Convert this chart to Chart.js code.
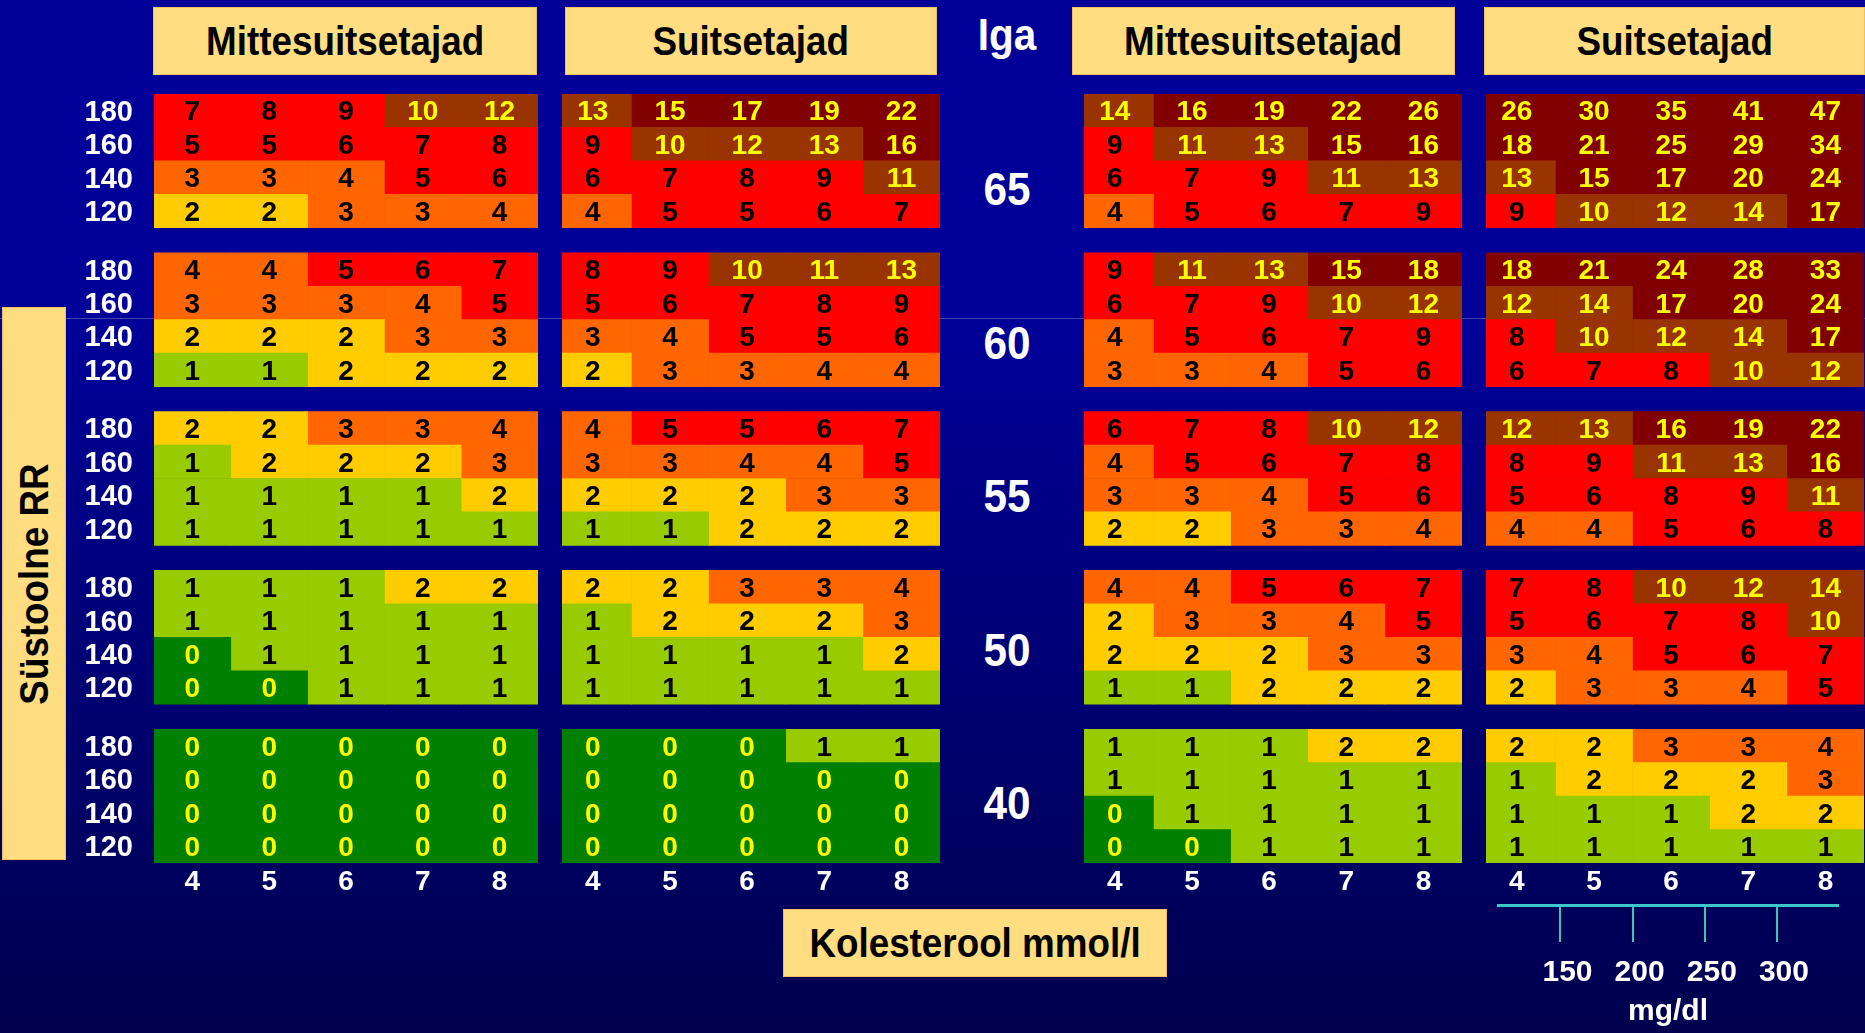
<!DOCTYPE html>
<html><head><meta charset="utf-8">
<script src="https://cdn.jsdelivr.net/npm/chart.js@4/dist/chart.umd.min.js"></script>
<style>
html,body{margin:0;padding:0;width:1865px;height:1033px;overflow:hidden;}
body{position:relative;background:linear-gradient(to bottom,#000099 0px,#000099 318px,#00004E 1033px);font-family:"Liberation Sans",Arial,sans-serif;}
.hline{position:absolute;left:0;top:318px;width:1865px;height:1px;background:#4444B0;}
.box{position:absolute;background:#FFDD80;border:1px solid #EEC25A;box-sizing:border-box;display:flex;align-items:center;justify-content:center;}
.box span{display:inline-block;font-weight:bold;font-size:40px;line-height:1;color:#000;transform:scaleX(0.92);white-space:nowrap;}
.box.vert span{transform:rotate(-90deg) scaleX(0.92);}
.lbl{position:absolute;color:#fff;font-weight:bold;line-height:1;transform:translate(-50%,-50%) scaleX(0.92);white-space:nowrap;}
canvas{position:absolute;}
</style></head><body>
<div class="hline"></div>
<div class="box" style="left:153px;top:7px;width:384px;height:68px"><span id="h1"></span></div>
<div class="box" style="left:565px;top:7px;width:372px;height:68px"><span id="h2"></span></div>
<div class="box" style="left:1072px;top:7px;width:383px;height:68px"><span id="h3"></span></div>
<div class="box" style="left:1484px;top:7px;width:381px;height:68px"><span id="h4"></span></div>
<div class="lbl" id="igaLbl" style="left:1007px;top:35px;font-size:44px"></div>
<div class="box vert" style="left:2px;top:307px;width:64px;height:553px"><span id="sideLbl"></span></div>
<div class="box" style="left:783px;top:909px;width:384px;height:68px"><span id="cholLbl"></span></div>
<div id="ageLabels"></div>
<canvas id="p1" width="468" height="849" style="left:70px;top:54px"></canvas>
<canvas id="p2" width="378" height="849" style="left:562px;top:54px"></canvas>
<canvas id="p3" width="378" height="849" style="left:1084px;top:54px"></canvas>
<canvas id="p4" width="378" height="849" style="left:1486px;top:54px"></canvas>
<canvas id="mg" width="342" height="135" style="left:1497px;top:895px"></canvas>
<script>
// ---------- data ----------
const panelTitles = ['Mittesuitsetajad', 'Suitsetajad', 'Mittesuitsetajad', 'Suitsetajad'];
const ageTitle = 'Iga';
const ages = ['65', '60', '55', '50', '40'];
const systolic = ['180', '160', '140', '120'];
const cholesterol = ['4', '5', '6', '7', '8'];
const mgdl = [150, 200, 250, 300];
const sideTitle = 'Süstoolne RR';
const cholTitle = 'Kolesterool mmol/l';
const mgdlTitle = 'mg/dl';

// risk values: blocks by age (65,60,55,50,40), rows by systolic (180..120), columns by cholesterol (4..8)
const riskNonSmokersLeft = [
  [[7,8,9,10,12],[5,5,6,7,8],[3,3,4,5,6],[2,2,3,3,4]],
  [[4,4,5,6,7],[3,3,3,4,5],[2,2,2,3,3],[1,1,2,2,2]],
  [[2,2,3,3,4],[1,2,2,2,3],[1,1,1,1,2],[1,1,1,1,1]],
  [[1,1,1,2,2],[1,1,1,1,1],[0,1,1,1,1],[0,0,1,1,1]],
  [[0,0,0,0,0],[0,0,0,0,0],[0,0,0,0,0],[0,0,0,0,0]]
];
const riskSmokersLeft = [
  [[13,15,17,19,22],[9,10,12,13,16],[6,7,8,9,11],[4,5,5,6,7]],
  [[8,9,10,11,13],[5,6,7,8,9],[3,4,5,5,6],[2,3,3,4,4]],
  [[4,5,5,6,7],[3,3,4,4,5],[2,2,2,3,3],[1,1,2,2,2]],
  [[2,2,3,3,4],[1,2,2,2,3],[1,1,1,1,2],[1,1,1,1,1]],
  [[0,0,0,1,1],[0,0,0,0,0],[0,0,0,0,0],[0,0,0,0,0]]
];
const riskNonSmokersRight = [
  [[14,16,19,22,26],[9,11,13,15,16],[6,7,9,11,13],[4,5,6,7,9]],
  [[9,11,13,15,18],[6,7,9,10,12],[4,5,6,7,9],[3,3,4,5,6]],
  [[6,7,8,10,12],[4,5,6,7,8],[3,3,4,5,6],[2,2,3,3,4]],
  [[4,4,5,6,7],[2,3,3,4,5],[2,2,2,3,3],[1,1,2,2,2]],
  [[1,1,1,2,2],[1,1,1,1,1],[0,1,1,1,1],[0,0,1,1,1]]
];
const riskSmokersRight = [
  [[26,30,35,41,47],[18,21,25,29,34],[13,15,17,20,24],[9,10,12,14,17]],
  [[18,21,24,28,33],[12,14,17,20,24],[8,10,12,14,17],[6,7,8,10,12]],
  [[12,13,16,19,22],[8,9,11,13,16],[5,6,8,9,11],[4,4,5,6,8]],
  [[7,8,10,12,14],[5,6,7,8,10],[3,4,5,6,7],[2,3,3,4,5]],
  [[2,2,3,3,4],[1,2,2,2,3],[1,1,1,2,2],[1,1,1,1,1]]
];

// ---------- styling ----------
const FONT = '"Liberation Sans", Arial, sans-serif';
const BLOCK_STEP = 4.75; // 4 rows + gap
function cellColor(v) {
  if (v <= 0) return '#008000';
  if (v === 1) return '#99CC00';
  if (v === 2) return '#FFCC00';
  if (v <= 4) return '#FF6600';
  if (v <= 9) return '#FF0000';
  if (v <= 14) return '#993300';
  return '#800000';
}
function textColor(v) { return (v === 0 || v >= 10) ? '#FFFF00' : '#000000'; }

// ---------- text labels ----------
['h1','h2','h3','h4'].forEach((id, i) => document.getElementById(id).textContent = panelTitles[i]);
document.getElementById('igaLbl').textContent = ageTitle;
document.getElementById('sideLbl').textContent = sideTitle;
document.getElementById('cholLbl').textContent = cholTitle;
const ageWrap = document.getElementById('ageLabels');
ages.forEach((a, i) => {
  const d = document.createElement('div');
  d.className = 'lbl';
  d.style.left = '1007px';
  d.style.top = (189 + i * 153.5) + 'px';
  d.style.fontSize = '46px';
  d.textContent = a;
  ageWrap.appendChild(d);
});

// ---------- charts ----------
const valueLabels = {
  id: 'valueLabels',
  afterDatasetsDraw(chart) {
    const ctx = chart.ctx;
    ctx.save();
    ctx.font = 'bold 28px ' + FONT;
    ctx.textAlign = 'center';
    ctx.textBaseline = 'middle';
    chart.data.datasets.forEach((ds, di) => {
      const meta = chart.getDatasetMeta(di);
      meta.data.forEach((el, i) => {
        const v = ds.data[i].v;
        const p = el.getCenterPoint();
        ctx.fillStyle = textColor(v);
        ctx.fillText(String(v), p.x, p.y + 2);
      });
    });
    ctx.restore();
  }
};

const rowPositions = [];
ages.forEach((a, bi) => systolic.forEach((s, ri) => rowPositions.push(bi * BLOCK_STEP + ri)));

function buildPanel(id, risk, showY, xMin) {
  const datasets = cholesterol.map((c, ci) => {
    const data = [];
    risk.forEach((block, bi) => block.forEach((row, ri) => {
      data.push({ x: [ci, ci + 1], y: bi * BLOCK_STEP + ri, v: row[ci] });
    }));
    return {
      label: c, data,
      backgroundColor: data.map(d => cellColor(d.v)),
      borderWidth: 0, grouped: false, barPercentage: 1, categoryPercentage: 1
    };
  });
  return new Chart(document.getElementById(id), {
    type: 'bar',
    data: { datasets },
    options: {
      indexAxis: 'y', responsive: false, animation: false,
      layout: { padding: { top: 40, left: 0, right: 0, bottom: 0 } },
      plugins: { legend: { display: false }, tooltip: { enabled: false } },
      scales: {
        x: {
          type: 'linear', min: xMin, max: cholesterol.length,
          grid: { display: false }, border: { display: false },
          afterBuildTicks: s => { s.ticks = cholesterol.map((c, i) => ({ value: i + 0.5 })); },
          afterFit: s => { s.height = 40; },
          ticks: { autoSkip: false, maxRotation: 0, color: '#ffffff', padding: -6,
                   font: { family: FONT, size: 28, weight: 'bold' },
                   callback: (v, i) => cholesterol[i] }
        },
        y: {
          type: 'linear', reverse: true, offset: false, display: showY,
          min: -0.5, max: (ages.length - 1) * BLOCK_STEP + systolic.length - 0.5,
          grid: { display: false, offset: false }, border: { display: false },
          afterBuildTicks: s => { s.ticks = rowPositions.map(v => ({ value: v })); },
          afterFit: s => { if (showY) s.width = 84; },
          ticks: { autoSkip: false, color: '#ffffff', padding: 13, labelOffset: 2,
                   font: { family: FONT, size: 29, weight: 'bold' },
                   callback: (v, i) => systolic[i % systolic.length] }
        }
      }
    },
    plugins: [valueLabels]
  });
}

buildPanel('p1', riskNonSmokersLeft, true, 0);
buildPanel('p2', riskSmokersLeft, false, 0.1);
buildPanel('p3', riskNonSmokersRight, false, 0.1);
buildPanel('p4', riskSmokersRight, false, 0.1);

// mg/dl reference scale
new Chart(document.getElementById('mg'), {
  type: 'scatter',
  data: { datasets: [] },
  options: {
    responsive: false, animation: false,
    layout: { padding: 0 },
    plugins: { legend: { display: false }, tooltip: { enabled: false } },
    scales: {
      x: {
        type: 'linear', position: 'bottom', min: 106, max: 343,
        afterBuildTicks: s => { s.ticks = mgdl.map(v => ({ value: v })); },
        afterFit: s => { s.height = 125; },
        border: { display: true, color: '#3CC8C8', width: 3 },
        grid: { display: true, drawOnChartArea: false, drawTicks: true, tickLength: 37, color: '#3CC8B0', lineWidth: 2 },
        ticks: { autoSkip: false, maxRotation: 0, color: '#ffffff', padding: 13, labelOffset: 7,
                 font: { family: FONT, size: 30, weight: 'bold' } },
        title: { display: true, text: mgdlTitle, color: '#ffffff', padding: 0,
                 font: { family: FONT, size: 30, weight: 'bold' } }
      },
      y: { display: false }
    }
  }
});
</script>
</body></html>
